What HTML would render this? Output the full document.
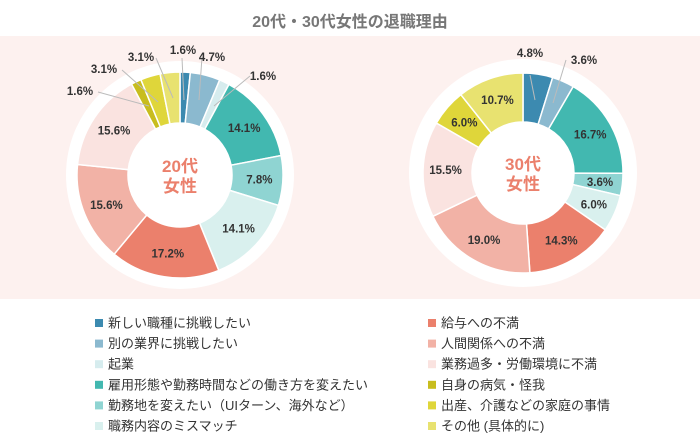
<!DOCTYPE html>
<html><head><meta charset="utf-8"><style>
body{margin:0;width:700px;height:439px;background:#fff;overflow:hidden;font-family:"Liberation Sans","Noto Sans CJK JP",sans-serif}
</style></head><body>
<svg id="s" width="700" height="439" xmlns="http://www.w3.org/2000/svg" style="position:absolute;left:0;top:0">
<rect x="0" y="36" width="700" height="263" fill="#fdf1ef"/>
<text x="350" y="27" text-anchor="middle" font-size="16" font-weight="bold" fill="#777" font-family="Liberation Sans, Noto Sans CJK JP, sans-serif">20代・30代女性の退職理由</text>
</svg>
<script>
var s=document.getElementById('s'),NS='http://www.w3.org/2000/svg';
function el(t,a,txt){var e=document.createElementNS(NS,t);for(var k in a)e.setAttribute(k,a[k]);if(txt!=null)e.textContent=txt;s.appendChild(e);return e;}
var C=['#3c8ab0','#8bb9cf','#d6ecee','#42b8b0','#8fd4d2','#d9f0ee','#eb806c','#f2b2a6','#fae3e0','#c8bd1e','#dfd63a','#e8e270'];
function donut(cx,cy,R,r,vals,inside,title){
 el('circle',{cx:cx,cy:cy,r:114,fill:'#fff'});
 var tot=vals.reduce(function(a,b){return a+b},0),a=-Math.PI/2;
 vals.forEach(function(v,i){if(!v)return;var b=a+v/tot*2*Math.PI,l=(b-a)>Math.PI?1:0;
  var p=function(rr,t){return (cx+rr*Math.cos(t)).toFixed(2)+' '+(cy+rr*Math.sin(t)).toFixed(2)};
  el('path',{d:'M'+p(R,a)+'A'+R+' '+R+' 0 '+l+' 1 '+p(R,b)+'L'+p(r,b)+'A'+r+' '+r+' 0 '+l+' 0 '+p(r,a)+'Z',fill:C[i],stroke:'#fff','stroke-width':1.5});
  if(inside[i]){var m=(a+b)/2,rm=(R+r)/2+2;el('text',{x:cx+rm*Math.cos(m),y:cy+rm*Math.sin(m)+4,'text-anchor':'middle','font-size':11.5,'font-weight':'bold',fill:'#333'},inside[i]);}
  a=b;});
 el('text',{x:cx,y:cy-3,'text-anchor':'middle','font-size':17,'font-weight':'bold',fill:'#eb806c'},title);
 el('text',{x:cx,y:cy+17,'text-anchor':'middle','font-size':17,'font-weight':'bold',fill:'#eb806c'},'女性');
}
donut(180,175,103,52,[1.6,4.7,1.6,14.1,7.8,14.1,17.2,15.6,15.6,1.6,3.1,3.1],['','','','14.1%','7.8%','14.1%','17.2%','15.6%','15.6%','','',''],'20代');
donut(523,173,100,51,[4.8,3.6,0,16.7,3.6,6.0,14.3,19.0,15.5,0,6.0,10.7],['','','','16.7%','3.6%','6.0%','14.3%','19.0%','15.5%','','6.0%','10.7%'],'30代');
function lab(x,y,t,l){if(l)el('polyline',{points:l,fill:'none',stroke:'#bbb','stroke-width':1});el('text',{x:x,y:y,'text-anchor':'middle','font-size':11.5,'font-weight':'bold',fill:'#333'},t);}
lab(183,54,'1.6%','182,58 184,100');
lab(212,61,'4.7%','202,57 199,100');
lab(263,80,'1.6%','250,76 214,106');
lab(141,61,'3.1%','156,58 173,98');
lab(104,73,'3.1%','122,70 158,102');
lab(80,95,'1.6%','98,92 149,106');
lab(530,57,'4.8%','530,75 535,100');
lab(584,64,'3.6%','566,60 553,103');
var L=[['新しい職種に挑戦したい',0],['別の業界に挑戦したい',1],['起業',2],['雇用形態や勤務時間などの働き方を変えたい',3],['勤務地を変えたい（UIターン、海外など）',4],['職務内容のミスマッチ',5]],
R=[['給与への不満',6],['人間関係への不満',7],['業務過多・労働環境に不満',8],['自身の病気・怪我',9],['出産、介護などの家庭の事情',10],['その他 (具体的に)',11]];
function leg(arr,x){arr.forEach(function(d,i){var y=323+i*20.6;el('rect',{x:x,y:y-4,width:8,height:8,fill:C[d[1]]});el('text',{x:x+13,y:y+4.5,'font-size':13,fill:'#333'},d[0]);});}
leg(L,95);leg(R,428);
</script>
</body></html>
